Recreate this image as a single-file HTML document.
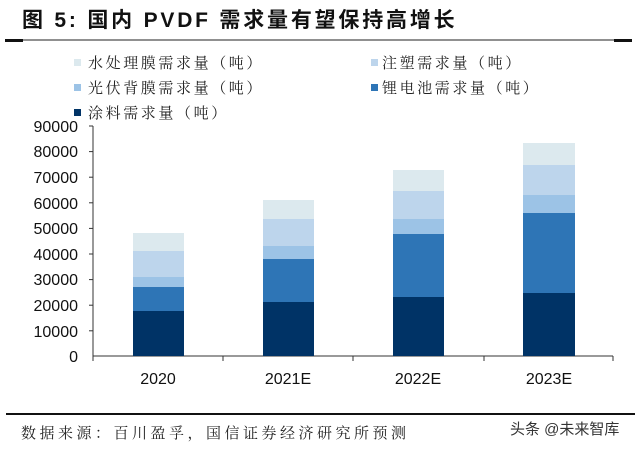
<!DOCTYPE html>
<html><head><meta charset="utf-8"><style>
body{margin:0;background:#fff;}
svg{display:block;}
</style></head><body>
<svg width="639" height="449" viewBox="0 0 639 449" xmlns="http://www.w3.org/2000/svg">
<rect width="639" height="449" fill="#fff"/>
<text x="22" y="27" font-family="'Liberation Sans','Noto Sans CJK SC',sans-serif" font-weight="bold" font-size="21" fill="#111" letter-spacing="2.8">图 5:  国内 PVDF 需求量有望保持高增长</text>
<line x1="5" y1="40" x2="632" y2="40" stroke="#222" stroke-width="1"/>
<rect x="5" y="39" width="18" height="3" fill="#111"/>
<rect x="614" y="39" width="18" height="3" fill="#111"/>
<g font-family="'Liberation Serif','Noto Serif CJK SC',serif" font-size="15" fill="#222" letter-spacing="2.6">
<rect x="74" y="59" width="7" height="7" fill="#dce9ee"/><text x="88" y="68">水处理膜需求量（吨）</text>
<rect x="371" y="59" width="7" height="7" fill="#bdd5ec"/><text x="382" y="68">注塑需求量（吨）</text>
<rect x="74" y="84" width="7" height="7" fill="#9cc3e6"/><text x="88" y="93">光伏背膜需求量（吨）</text>
<rect x="371" y="84" width="7" height="7" fill="#2e75b6"/><text x="382" y="93">锂电池需求量（吨）</text>
<rect x="74" y="109" width="7" height="7" fill="#003366"/><text x="88" y="118">涂料需求量（吨）</text>
</g>
<g font-family="'Liberation Sans',sans-serif" font-size="16" fill="#111" text-anchor="end">
<text x="78" y="132">90000</text><text x="78" y="157">80000</text><text x="78" y="183">70000</text>
<text x="78" y="209">60000</text><text x="78" y="234">50000</text><text x="78" y="260">40000</text>
<text x="78" y="285">30000</text><text x="78" y="311">20000</text><text x="78" y="337">10000</text>
<text x="78" y="362">0</text>
</g>
<g stroke="#333" stroke-width="1">
<line x1="93" y1="126" x2="93" y2="356"/>
<line x1="93" y1="356" x2="613" y2="356"/>
<line x1="89" y1="126" x2="93" y2="126"/><line x1="89" y1="151.6" x2="93" y2="151.6"/><line x1="89" y1="177.2" x2="93" y2="177.2"/>
<line x1="89" y1="202.8" x2="93" y2="202.8"/><line x1="89" y1="228.4" x2="93" y2="228.4"/><line x1="89" y1="254" x2="93" y2="254"/>
<line x1="89" y1="279.6" x2="93" y2="279.6"/><line x1="89" y1="305.2" x2="93" y2="305.2"/><line x1="89" y1="330.8" x2="93" y2="330.8"/>
<line x1="93" y1="356" x2="93" y2="361"/><line x1="223" y1="356" x2="223" y2="361"/><line x1="353" y1="356" x2="353" y2="361"/>
<line x1="484" y1="356" x2="484" y2="361"/><line x1="613" y1="356" x2="613" y2="361"/>
</g>
<g>
<rect x="133" y="233" width="51" height="18" fill="#dce9ee"/>
<rect x="133" y="251" width="51" height="26" fill="#bdd5ec"/>
<rect x="133" y="277" width="51" height="10" fill="#9cc3e6"/>
<rect x="133" y="287" width="51" height="24" fill="#2e75b6"/>
<rect x="133" y="311" width="51" height="45" fill="#003366"/>

<rect x="263" y="200" width="51" height="19" fill="#dce9ee"/>
<rect x="263" y="219" width="51" height="27" fill="#bdd5ec"/>
<rect x="263" y="246" width="51" height="13" fill="#9cc3e6"/>
<rect x="263" y="259" width="51" height="43" fill="#2e75b6"/>
<rect x="263" y="302" width="51" height="54" fill="#003366"/>

<rect x="393" y="170" width="51" height="21" fill="#dce9ee"/>
<rect x="393" y="191" width="51" height="28" fill="#bdd5ec"/>
<rect x="393" y="219" width="51" height="15" fill="#9cc3e6"/>
<rect x="393" y="234" width="51" height="63" fill="#2e75b6"/>
<rect x="393" y="297" width="51" height="59" fill="#003366"/>

<rect x="523" y="143" width="52" height="22" fill="#dce9ee"/>
<rect x="523" y="165" width="52" height="30" fill="#bdd5ec"/>
<rect x="523" y="195" width="52" height="18" fill="#9cc3e6"/>
<rect x="523" y="213" width="52" height="80" fill="#2e75b6"/>
<rect x="523" y="293" width="52" height="63" fill="#003366"/>
</g>
<g font-family="'Liberation Sans',sans-serif" font-size="16" fill="#111" text-anchor="middle">
<text x="158" y="384">2020</text><text x="288" y="384">2021E</text>
<text x="418" y="384">2022E</text><text x="549" y="384">2023E</text>
</g>
<rect x="6" y="413" width="629" height="2" fill="#111"/>
<text x="21" y="438" font-family="'Liberation Serif','Noto Serif CJK SC',serif" font-size="15" fill="#222" letter-spacing="3.5">数据来源：百川盈孚，国信证券经济研究所预测</text>
<text x="510" y="434" font-family="'Liberation Sans','Noto Sans CJK SC',sans-serif" font-size="15" fill="#333">头条 @未来智库</text>
</svg>
</body></html>
